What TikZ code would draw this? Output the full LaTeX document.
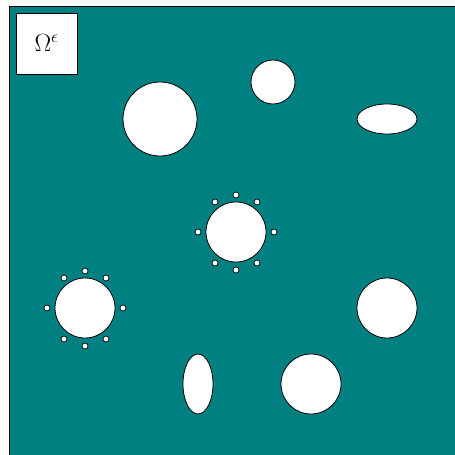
\documentclass[tikz,border=0pt]{standalone}
\usetikzlibrary{shapes.geometric,calc}
\definecolor{tealbg}{RGB}{0,128,128}
\tikzset{
  hole/.style={circle,draw=black,fill=white,line width=0.8pt,inner sep=0pt},
  ehole/.style={ellipse,draw=black,fill=white,line width=0.8pt,inner sep=0pt},
  dot/.style={circle,draw=black,fill=white,line width=0.7pt,inner sep=0pt,minimum size=6pt},
  lbl/.style={draw=black,fill=white,line width=0.8pt,minimum size=61pt,inner sep=0pt}
}
\begin{document}
\begin{tikzpicture}[x=1pt,y=-1pt]
\useasboundingbox (0,0) rectangle (455,455);
\clip (0,0) rectangle (455,455);
\fill[white] (0,0) rectangle (455,455);
\draw[fill=tealbg,line width=0.8pt] (9,6) rectangle (470,470);
\node[lbl] (label) at (46.5,43.5) {\fontsize{27}{31}\selectfont$\Omega^{\epsilon}$};
\node[hole,minimum size=74pt] (big) at (160,119) {};
\node[hole,minimum size=44pt] (small) at (273,82) {};
\node[ehole,minimum width=60pt,minimum height=30pt] (eh) at (387,119) {};
\node[hole,minimum size=60pt] (center) at (236,232) {};
\node[hole,minimum size=60pt] (left) at (85,308) {};
\node[hole,minimum size=60pt] (right) at (387,308) {};
\node[ehole,minimum width=30pt,minimum height=60pt] (ev) at (198,384) {};
\node[hole,minimum size=60pt] (bottom) at (311,384) {};
\foreach \dx/\dy [count=\i] in {0/-37, 21/-30, 38/0, 21/31, 0/38, -21/31, -38/0, -21/-30}{
  \node[dot] (c\i) at ($(center)+(\dx,\dy)$) {};
  \node[dot] (l\i) at ($(left)+(\dx,\dy)$) {};
}
\end{tikzpicture}
\end{document}
